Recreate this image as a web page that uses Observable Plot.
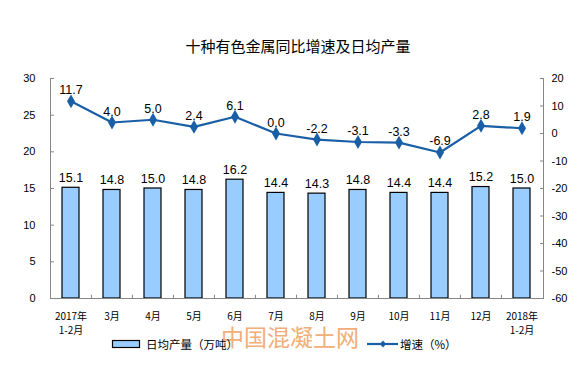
<!DOCTYPE html>
<html><head><meta charset="utf-8">
<script src="https://cdn.jsdelivr.net/npm/d3@7"></script>
<script src="https://cdn.jsdelivr.net/npm/@observablehq/plot@0.6"></script>
<style>
body{margin:0;background:#fff;font-family:"Liberation Sans","Noto Sans CJK SC",sans-serif;}
#wrap{position:relative;width:580px;height:378px;overflow:hidden;}
#title{position:absolute;left:0;width:596px;top:35px;text-align:center;font-size:15px;color:#000;font-family:"Noto Sans CJK SC",sans-serif;}
#chart{position:absolute;left:0;top:60px;}
.leg{position:absolute;font-size:11.5px;color:#000;font-family:"Noto Sans CJK SC",sans-serif;line-height:14px;}
#wm{position:absolute;left:221px;top:325px;font-size:23px;line-height:23px;color:#f0a060;opacity:0.85;font-family:"Noto Sans CJK SC",sans-serif;}
</style></head>
<body><div id="wrap">
<div id="title">十种有色金属同比增速及日均产量</div>
<div id="chart"></div>
<div id="wm">中国混凝土网</div>
<svg style="position:absolute;left:0;top:0" width="580" height="378">
  <rect x="112.5" y="340.5" width="27" height="7" fill="#99ccff" stroke="#000" stroke-width="1.2"/>
  <line x1="367" y1="344" x2="398" y2="344" stroke="#1a5fa6" stroke-width="2.2"/>
  <path d="M383,340.5 L386,344 L383,347.5 L380,344 Z" fill="#1a5fa6"/>
</svg>
<div class="leg" style="left:146px;top:337px">日均产量（万吨）</div>
<div class="leg" style="left:400px;top:337px">增速（%）</div>
</div>
<script>
const categories = ["2017年\n1-2月","3月","4月","5月","6月","7月","8月","9月","10月","11月","12月","2018年\n1-2月"];
const output = [15.1,14.8,15.0,14.8,16.2,14.4,14.3,14.8,14.4,14.4,15.2,15.0];
const growth = [11.7,4.0,5.0,2.4,6.1,0.0,-2.2,-3.1,-3.3,-6.9,2.8,1.9];
const leftTicks = [0,5,10,15,20,25,30];
const rightTicks = [-60,-50,-40,-30,-20,-10,0,10,20];

const k = 30/80; // right axis [-60,20] mapped onto left [0,30]
const toLeft = v => (v + 60) * k;
const data = categories.map((c,i)=>({cat:c, out:output[i], g:growth[i], gy:toLeft(growth[i])}));

const W = 580, ML = 50, MR = 37;
const step = (W - ML - MR) / categories.length;
const axisColor = "#868686";

const chart = Plot.plot({
  width: W, height: 290,
  marginLeft: ML, marginRight: MR, marginTop: 18, marginBottom: 52,
  style: {fontFamily: '"Liberation Sans","Noto Sans CJK SC",sans-serif', fontSize: "11px", color:"#000", background:"transparent", overflow:"visible"},
  x: {type:"band", domain: categories, paddingInner: 0.585, paddingOuter: 0.2925},
  y: {domain:[0,30]},
  marks: [
    Plot.barY(data, {x:"cat", y:"out", fill:"#99ccff", stroke:"#000", strokeWidth:1.2}),
    Plot.frame({anchor:"left", stroke:axisColor}),
    Plot.frame({anchor:"right", stroke:axisColor}),
    Plot.ruleY([0], {stroke:axisColor}),
    Plot.ruleX(categories.slice(1), {x: d=>d, dx: -step/2, y1: 0, y2: 0.45, stroke:axisColor}),
    Plot.axisY(leftTicks, {anchor:"left", tickSize:4, dx:4, tickPadding:15, stroke:axisColor, fill:"#000", fontSize:11, label:null}),
    Plot.axisY(rightTicks.map(toLeft), {anchor:"right", tickSize:4, dx:-4, tickPadding:8, textAnchor:"start", tickFormat: v => String(Math.round(v/k - 60)), stroke:axisColor, fill:"#000", fontSize:11, label:null}),
    Plot.axisX({tickSize:0, tickPadding:12, fontSize:10, lineHeight:1.35, fontFamily:'"Noto Sans CJK SC",sans-serif', fill:"#000", label:null}),
    Plot.line(data, {x:"cat", y:"gy", stroke:"#1a5fa6", strokeWidth:2.2}),
    Plot.dot(data, {x:"cat", y:"gy", symbol:"diamond", r:4.2, fill:"#1a5fa6", stroke:"none"}),
    Plot.text(data, {x:"cat", y:"out", text: d=>d.out.toFixed(1), dy:-10, fontSize:12.5, fill:"#000"}),
    Plot.text(data, {x:"cat", y:"gy", text: d=>d.g.toFixed(1), dy:-11, fontSize:12.5, fill:"#000"})
  ]
});
document.getElementById("chart").appendChild(chart);
</script>
</body></html>
